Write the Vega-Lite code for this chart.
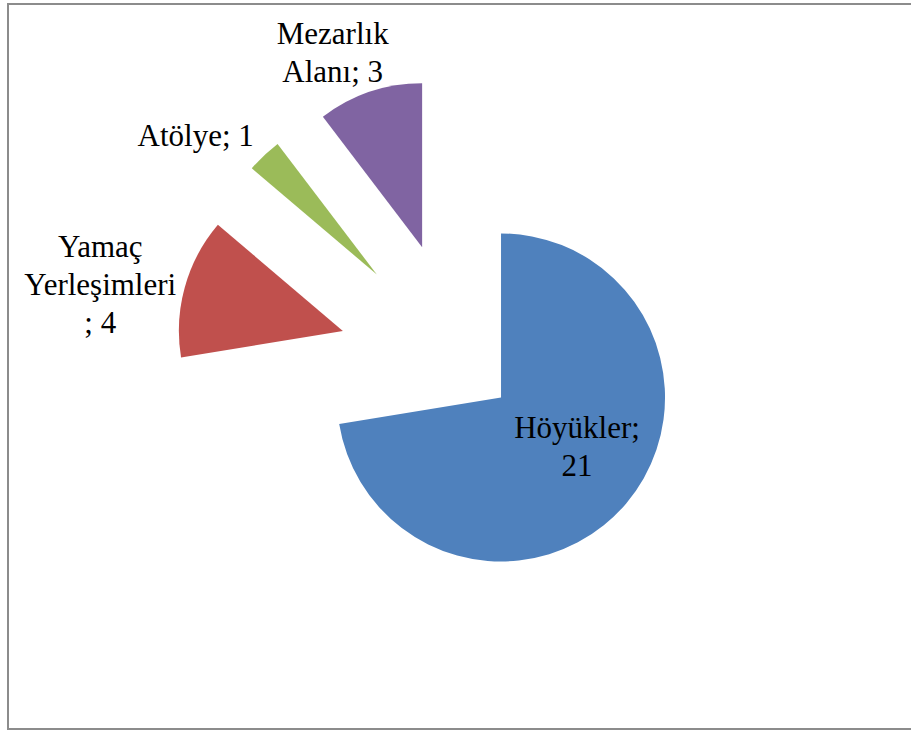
{
  "$schema": "https://vega.github.io/schema/vega-lite/v6.json",
  "width": 906,
  "height": 725,
  "padding": {"left": 8, "top": 4, "right": -3, "bottom": 2},
  "autosize": {"type": "none"},
  "background": "white",
  "config": {"view": {"stroke": "#8c8c8c", "strokeWidth": 2}},
  "data": {
    "values": [
      {"category": "Höyükler", "value": 21},
      {"category": "Yamaç Yerleşimleri", "value": 4},
      {"category": "Atölye", "value": 1},
      {"category": "Mezarlık Alanı", "value": 3}
    ]
  },
  "transform": [
    {"joinaggregate": [{"op": "sum", "field": "value", "as": "total"}]},
    {"window": [{"op": "sum", "field": "value", "as": "cum"}]},
    {"calculate": "2*PI*datum.cum/datum.total", "as": "t2"},
    {"calculate": "2*PI*(datum.cum-datum.value)/datum.total", "as": "t1"},
    {"calculate": "(datum.t1+datum.t2)/2", "as": "mid"},
    {"calculate": "datum.category === 'Höyükler' ? 52 : 123", "as": "explode"},
    {"calculate": "datum.explode*sin(datum.mid)", "as": "ox"},
    {"calculate": "datum.explode*cos(datum.mid)", "as": "oy"}
  ],
  "encoding": {
    "x": {"field": "ox", "type": "quantitative", "axis": null, "scale": {"domain": [-453.4, 452.6], "nice": false, "zero": false}},
    "y": {"field": "oy", "type": "quantitative", "axis": null, "scale": {"domain": [-365.2, 359.8], "nice": false, "zero": false}}
  },
  "layer": [
    {
      "mark": {"type": "arc", "outerRadius": 164},
      "encoding": {
        "theta": {"field": "t1", "type": "quantitative", "scale": null, "stack": null},
        "theta2": {"field": "t2"},
        "color": {
          "field": "category",
          "type": "nominal",
          "legend": null,
          "scale": {
            "domain": ["Höyükler", "Yamaç Yerleşimleri", "Atölye", "Mezarlık Alanı"],
            "range": ["#4F81BD", "#C0504D", "#9BBB59", "#8064A2"]
          }
        }
      }
    },
    {
      "transform": [
        {"filter": "datum.category === 'Mezarlık Alanı'"},
        {"calculate": "replace(datum.category, ' ', '\\n') + '; ' + datum.value", "as": "label"}
      ],
      "mark": {"type": "text", "radius": 230, "align": "center", "baseline": "top", "dx": -16, "dy": -9, "font": "Liberation Serif", "fontSize": 31, "lineHeight": 38, "lineBreak": "\n", "fill": "black"},
      "encoding": {
        "theta": {"field": "mid", "type": "quantitative", "scale": null},
        "text": {"field": "label", "type": "nominal"}
      }
    },
    {
      "transform": [
        {"filter": "datum.category === 'Atölye'"},
        {"calculate": "datum.category + '; ' + datum.value", "as": "label"}
      ],
      "mark": {"type": "text", "radius": 230, "align": "center", "baseline": "top", "dx": -23, "dy": 14, "font": "Liberation Serif", "fontSize": 31, "lineHeight": 38, "lineBreak": "\n", "fill": "black"},
      "encoding": {
        "theta": {"field": "mid", "type": "quantitative", "scale": null},
        "text": {"field": "label", "type": "nominal"}
      }
    },
    {
      "transform": [
        {"filter": "datum.category === 'Yamaç Yerleşimleri'"},
        {"calculate": "replace(datum.category, ' ', '\\n') + '\\n; ' + datum.value", "as": "label"}
      ],
      "mark": {"type": "text", "radius": 230, "align": "center", "baseline": "top", "dx": -21, "dy": -36, "font": "Liberation Serif", "fontSize": 31, "lineHeight": 38, "lineBreak": "\n", "fill": "black"},
      "encoding": {
        "theta": {"field": "mid", "type": "quantitative", "scale": null},
        "text": {"field": "label", "type": "nominal"}
      }
    },
    {
      "transform": [
        {"filter": "datum.category === 'Höyükler'"},
        {"calculate": "datum.category + ';\\n' + datum.value", "as": "label"}
      ],
      "mark": {"type": "text", "radius": 80, "align": "center", "baseline": "top", "dx": 15, "dy": -35, "font": "Liberation Serif", "fontSize": 31, "lineHeight": 38, "lineBreak": "\n", "fill": "black"},
      "encoding": {
        "theta": {"field": "mid", "type": "quantitative", "scale": null},
        "text": {"field": "label", "type": "nominal"}
      }
    }
  ]
}
